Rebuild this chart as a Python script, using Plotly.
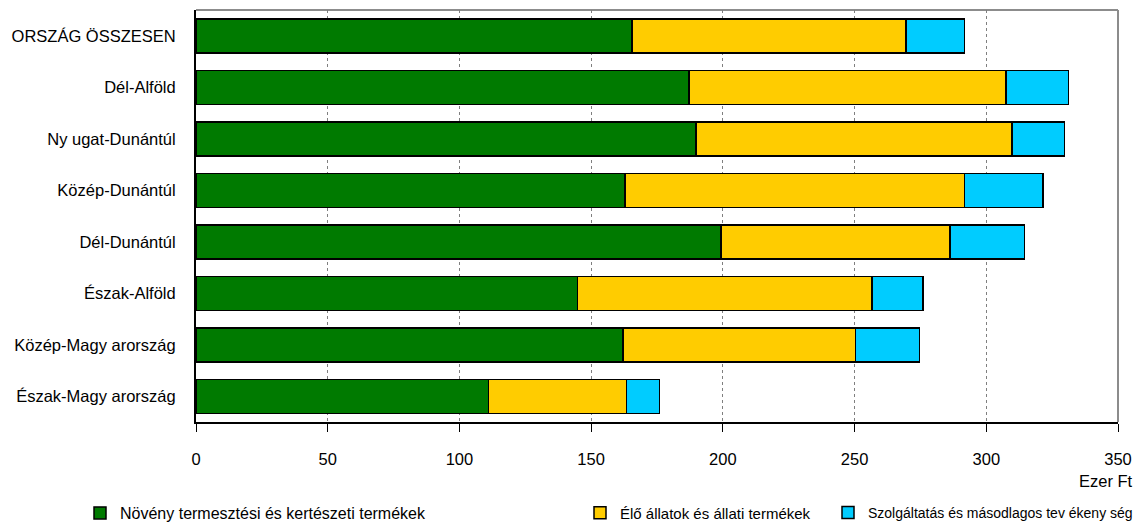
import plotly.graph_objects as go

regions = ["ORSZÁG ÖSSZESEN", "Dél-Alföld", "Ny ugat-Dunántúl", "Közép-Dunántúl",
           "Dél-Dunántúl", "Észak-Alföld", "Közép-Magy arország", "Észak-Magy arország"]
noveny = [165.5, 187.2, 189.8, 162.9, 199.3, 144.9, 162.1, 111.1]
allat = [104.1, 120.3, 119.9, 128.8, 87.0, 111.7, 88.2, 52.3]
szolg = [22.1, 23.7, 19.9, 29.8, 28.2, 19.3, 24.3, 12.5]
series_names = ["Növény termesztési és kertészeti termékek",
                "Élő állatok és állati termékek",
                "Szolgáltatás és másodlagos tev ékeny ség"]
colors = ["#007A00", "#FFCC00", "#00CCFF"]
xticks = [0, 50, 100, 150, 200, 250, 300, 350]

FONT = "Liberation Sans, Arial, sans-serif"
FS = 16.5
LEG_FS = [16, 15, 14]
LEG_X = [80, 580, 828]

fig = go.Figure()
for i, (vals, name, col) in enumerate(zip([noveny, allat, szolg], series_names, colors)):
    fig.add_trace(go.Bar(
        y=regions, x=vals, name=name, orientation="h",
        marker=dict(color=col, line=dict(color="black", width=1.5)),
        legend="legend" if i == 0 else f"legend{i+1}",
    ))

L, R, T, B = 196, 22, 10, 104
W, H = 1140, 526
ph = H - T - B

def py2y(p):
    return (H - B - p) / ph

ly = 1 - 513 / H

def leg(i):
    return dict(orientation="h", yanchor="middle", xanchor="left",
                xref="container", yref="container", x=LEG_X[i] / W, y=ly,
                font=dict(family=FONT, size=LEG_FS[i], color="black"),
                bgcolor="rgba(0,0,0,0)", borderwidth=0)

fig.update_layout(
    width=W, height=H,
    margin=dict(l=L, r=R, t=T, b=B, autoexpand=False),
    barmode="stack", bargap=0.34,
    plot_bgcolor="white", paper_bgcolor="white",
    font=dict(family=FONT, size=FS, color="black"),
    showlegend=True,
    legend=leg(0), legend2=leg(1), legend3=leg(2),
    xaxis=dict(range=[0, 350], tickvals=xticks, ticktext=[str(v) for v in xticks],
               showgrid=True, gridcolor="#7f7f7f", griddash="dot", gridwidth=1,
               showline=True, linecolor="black", linewidth=2,
               ticks="outside", ticklen=8, tickcolor="black", tickwidth=1,
               ticklabelstandoff=13, zeroline=False, automargin=False,
               tickfont=dict(family=FONT, size=FS, color="black")),
    yaxis=dict(autorange="reversed", showgrid=False,
               showline=True, linecolor="black", linewidth=2,
               ticks="", ticklabelstandoff=15, automargin=False,
               tickfont=dict(family=FONT, size=FS, color="black")),
    shapes=[
        dict(type="line", xref="paper", yref="paper", x0=0, x1=1, y0=1, y1=1,
             line=dict(color="#8c8c8c", width=2), layer="below"),
        dict(type="line", xref="paper", yref="paper", x0=1, x1=1, y0=0, y1=1,
             line=dict(color="#8c8c8c", width=2), layer="below"),
    ],
    annotations=[
        dict(text="Ezer Ft", xref="paper", yref="paper", x=1.018, y=py2y(481),
             xanchor="right", yanchor="middle", showarrow=False,
             font=dict(family=FONT, size=FS, color="black")),
    ],
)

fig.write_html("out.html", config={"displayModeBar": False},
               post_script="document.body.style.margin='0';document.body.style.overflow='hidden';")
